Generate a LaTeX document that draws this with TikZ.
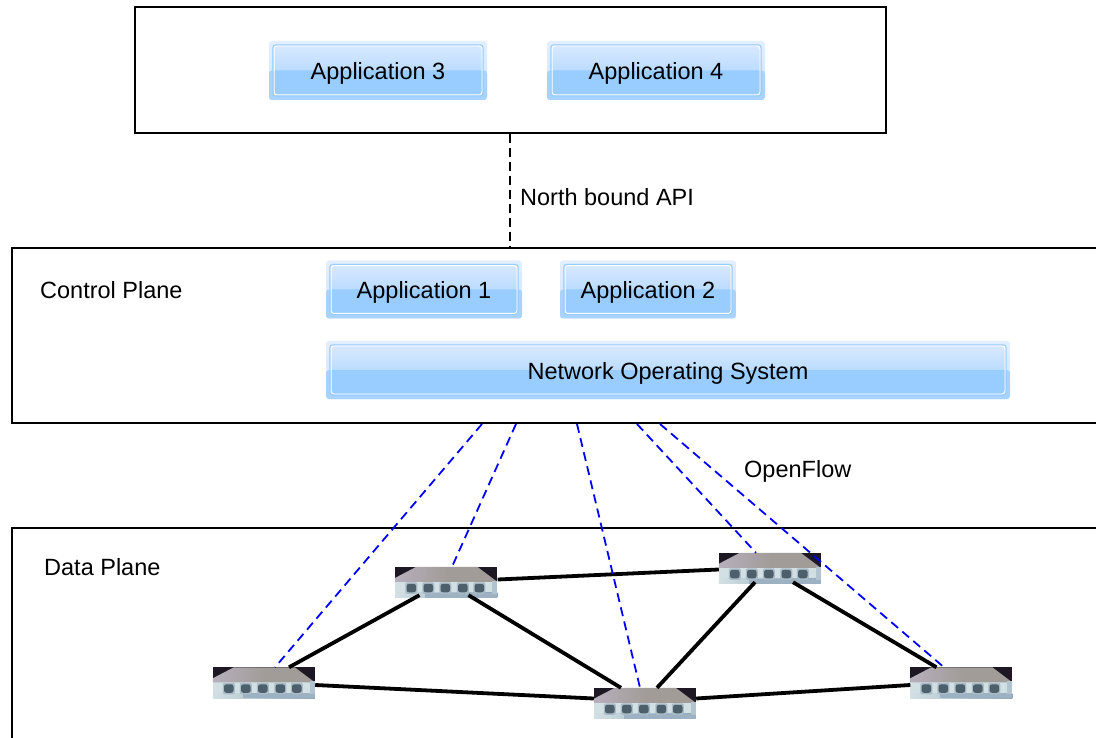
\documentclass[tikz,border=0pt]{standalone}
\usepackage{fontspec}
\setmainfont{Liberation Sans}
\usetikzlibrary{calc}
\definecolor{btnmid}{HTML}{99CCFF}
\definecolor{btntop}{HTML}{D9E9FF}
\definecolor{btnlow}{HTML}{BBDCFF}
\definecolor{btnouttop}{HTML}{E2EFFF}
\definecolor{btnoutup}{HTML}{CFE4FF}
\definecolor{btnoutlow}{HTML}{A8D3FF}
\definecolor{swdark}{HTML}{1D1824}
\definecolor{swroof}{HTML}{A29C99}
\definecolor{swroofl}{HTML}{B7AFBC}
\definecolor{swbody}{HTML}{A8BBC6}
\definecolor{swlight}{HTML}{D2E0E4}
\definecolor{swlow}{HTML}{8FA5B8}
\definecolor{swport}{HTML}{4D5F6B}
\newcommand{\swport}[1]{%
  \fill[swbody,rounded corners=2pt] (#1-6,15.5) rectangle (#1+6,27);
  \fill[swport,rounded corners=2.5pt] (#1-4.8,17) rectangle (#1+4.8,25.5);}
\newcommand{\swicon}[1]{%
  \begin{scope}[shift={(#1.north west)}]
    \fill[swbody] (0,0) rectangle (102,31);
    \fill[swlight] (0,13) rectangle (102,27);
    \shade[left color=swlight,right color=swlow] (0,26) rectangle (102,31);
    \fill[swdark] (0,0) rectangle (102,15);
    \shade[left color=swroofl,right color=swroof,middle color=swroof]
      (0,11) -- (21,0) -- (82,0) -- (102,15) -- (0,15) -- cycle;
    \fill[swlow!80!swlight] (30,26) rectangle (102,31);
    \fill[swlight!50!swlow] (97,14) rectangle (102,27);
    \swport{16}\swport{33}\swport{50}\swport{67.5}\swport{84}
  \end{scope}}
\tikzset{
  x=1pt,y=-1pt,
  every node/.style={font=\fontsize{23.5}{28}\selectfont,text=black},
  plane/.style={draw=black,line width=2pt,fill=white,rectangle,inner sep=0pt},
  label text/.style={anchor=west,inner sep=0pt},
  button/.style={rectangle,inner sep=0pt,rounded corners=3pt,top color=btnouttop,bottom color=btnoutup,
    text depth=0pt,text height=19pt,
    path picture={
      \fill[btnoutlow] (path picture bounding box.west) rectangle (path picture bounding box.south east);
      \shade[top color=btntop,bottom color=btnlow]
        ([shift={(3.5pt,-3.5pt)}]path picture bounding box.north west) rectangle
        ([xshift=-3.5pt]path picture bounding box.east);
      \fill[btnmid]
        ([xshift=3.5pt]path picture bounding box.west) rectangle
        ([shift={(-3.5pt,3.5pt)}]path picture bounding box.south east);
      \draw[white,line width=1pt]
        ([shift={(5pt,-5pt)}]path picture bounding box.north west) rectangle
        ([shift={(-5pt,5pt)}]path picture bounding box.south east);
      \draw[btnmid,line width=1pt]
        ([shift={(3.8pt,-3.8pt)}]path picture bounding box.north west) rectangle
        ([shift={(-3.8pt,3.8pt)}]path picture bounding box.south east);
    }},
  switchbox/.style={rectangle,inner sep=0pt,minimum width=102pt,minimum height=31pt},
  openflow/.style={draw=blue,line width=1.8pt,dash pattern=on 9pt off 5.5pt},
  northbound/.style={draw=black,line width=1.6pt,dash pattern=on 9pt off 5pt},
  link/.style={draw=black,line width=3.8pt},
}
\begin{document}
\begin{tikzpicture}
\clip (0,0) rectangle (1096,738);
% planes
\node[plane,minimum width=751pt,minimum height=126pt] (top) at (510.5,70) {};
\node[plane,minimum width=1120pt,minimum height=175pt] (control) at (572,335.5) {};
\node[plane,minimum width=1120pt,minimum height=260pt] (data) at (572,658) {};
% buttons
\node[button,minimum width=218pt,minimum height=59pt] (app3) at (378,70.5) {Application 3};
\node[button,minimum width=218pt,minimum height=59pt] (app4) at (656,70.5) {Application 4};
\node[button,minimum width=196pt,minimum height=58pt] (app1) at (424,289.5) {Application 1};
\node[button,minimum width=176pt,minimum height=58pt] (app2) at (648,289.5) {Application 2};
\node[button,minimum width=684pt,minimum height=58pt] (nos) at (668,370) {Network Operating System};
% labels
\node[label text] (nb) at (520,197) {North bound API};
\node[label text] (cp) at (40,290) {Control Plane};
\node[label text] (dp) at (44,567.5) {Data Plane};
\node[label text] (of) at (744,471.5) {OpenFlow};
% switches
\node[switchbox] (s1) at (264,683) {};
\node[switchbox] (s2) at (446.5,582.5) {};
\node[switchbox] (s3) at (770,568.5) {};
\node[switchbox] (s4) at (645,703.5) {};
\node[switchbox] (s5) at (961.5,683) {};
\swicon{s1}\swicon{s2}\swicon{s3}\swicon{s4}\swicon{s5}
% black links
\draw[link] ([xshift=25pt]s1.north) -- ([shift={(-27pt,3pt)}]s2.south);
\draw[link] ([shift={(22pt,3pt)}]s2.south) -- ([xshift=-24pt]s4.north);
\draw[link] ([yshift=3pt]s2.east) -- ([yshift=-1pt]s3.west);
\draw[link] ([shift={(-15pt,2pt)}]s3.south) -- ([xshift=12pt]s4.north);
\draw[link] ([shift={(23pt,2pt)}]s3.south) -- ([xshift=-25pt]s5.north);
\draw[link] ([yshift=-2pt]s1.east) -- ([yshift=5pt]s4.west);
\draw[link] ([yshift=5pt]s4.east) -- ([yshift=-2pt]s5.west);
% north bound
\draw[northbound] (top.south -| 510,0) -- (control.north -| 510,0);
% openflow
\coordinate (ca) at (482,424);
\coordinate (cb) at (516,424);
\coordinate (cc) at (577,424);
\coordinate (cd) at (637,424);
\coordinate (ce) at (660,424);
\draw[openflow] (ca) -- ([xshift=11pt]s1.north);
\draw[openflow] (cb) -- ([xshift=5.5pt]s2.north);
\draw[openflow] (cc) -- ([xshift=-5pt]s4.north);
\draw[openflow] (cd) -- ([xshift=-14pt]s3.north);
\draw[openflow] (ce) -- ([xshift=-17.5pt]s5.north);
\end{tikzpicture}
\end{document}
